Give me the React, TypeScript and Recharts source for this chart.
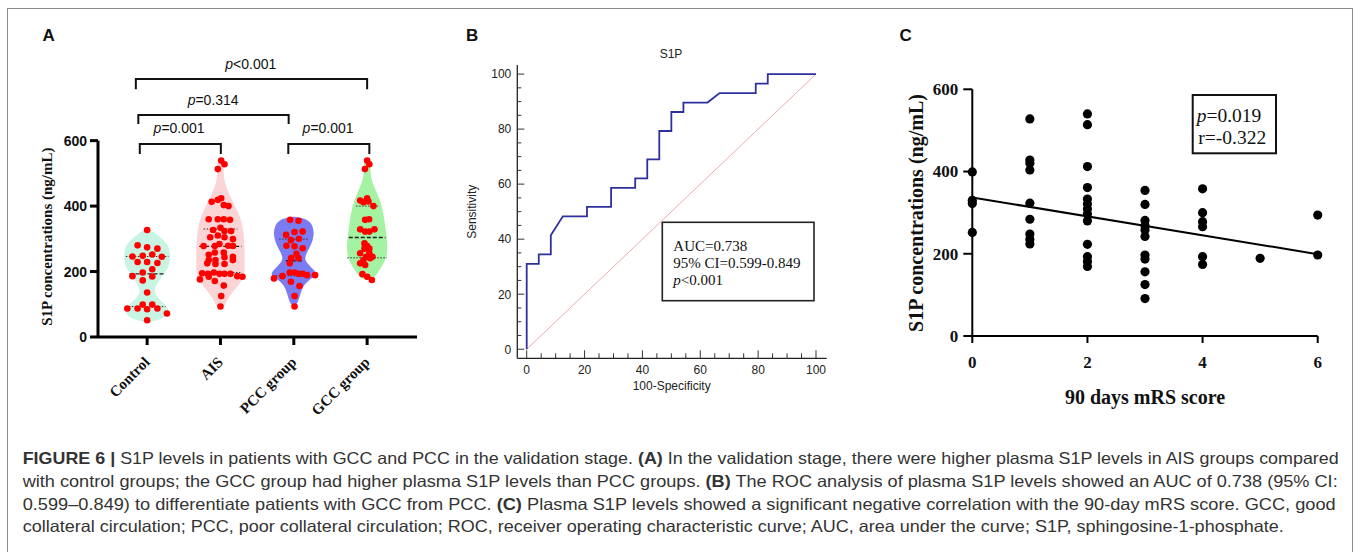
import { ComposedChart, Scatter, Line, XAxis, YAxis, ReferenceLine, Curve } from 'recharts';

const SERIF = "'Liberation Serif', 'Times New Roman', serif";
const SANS = "'Liberation Sans', Arial, sans-serif";
const NARROW = "'Liberation Sans Narrow', 'Arial Narrow', 'Liberation Sans', Arial, sans-serif";

// ---------- panel A: violins ----------
const groups = ['Control', 'AIS', 'PCC group', 'GCC group'];
const groupFill = ['#c8f4e3', '#fbd5d5', '#7b7bf2', '#a3f3a3'];

// outline of each violin: level (ng/mL) and half width (category units)
const controlLevels = [44, 52, 62, 82, 108, 133, 154, 184, 215, 245, 276, 296, 317, 335];
const controlWidths = [0, 0.16, 0.25, 0.32, 0.2, 0.09, 0.11, 0.2, 0.3, 0.32, 0.3, 0.23, 0.11, 0];
const aisLevels = [85, 93, 123, 154, 184, 215, 276, 337, 378, 419, 459, 500, 531, 545];
const aisWidths = [0, 0.055, 0.11, 0.23, 0.33, 0.33, 0.33, 0.31, 0.25, 0.16, 0.07, 0.036, 0.055, 0];
const pccLevels = [92, 103, 133, 164, 184, 195, 215, 235, 256, 286, 317, 347, 362, 368];
const pccWidths = [0, 0.055, 0.09, 0.14, 0.28, 0.32, 0.23, 0.14, 0.17, 0.25, 0.28, 0.25, 0.16, 0];
const gccLevels = [174, 180, 195, 225, 256, 296, 337, 378, 419, 459, 500, 531, 545];
const gccWidths = [0, 0.1, 0.14, 0.23, 0.28, 0.27, 0.25, 0.22, 0.18, 0.09, 0.036, 0.055, 0];

// individual samples: horizontal jitter and value
const controlOffset = [0, -0.13, 0, 0.14, -0.2, -0.06, 0.07, 0.2, -0.13, 0, 0.14, 0.07, -0.2, -0.06, 0.07, -0.06, 0, -0.27, -0.13, -0.06, 0, 0.07, 0.14, 0.27, 0];
const controlValue = [327, 280, 274, 270, 246, 248, 252, 245, 229, 229, 226, 207, 186, 197, 185, 173, 136, 87, 87, 99, 85, 99, 87, 72, 51];
const aisOffset = [0.01, 0.055, -0.036, -0.12, -0.036, 0.01, 0.045, 0.11, -0.16, -0.036, 0.045, 0.13, -0.1, 0, 0.055, 0.145, -0.14, -0.036, 0.055, 0.17, -0.23, -0.077, -0.014, 0.105, 0.17, -0.16, -0.077, 0.045, -0.16, -0.068, 0.055, 0.17, 0.17, -0.18, -0.068, 0.055, -0.25, -0.17, -0.09, -0.014, 0.055, 0.136, 0.23, 0.3, -0.28, -0.16, -0.077, 0.045, 0.01, 0];
const aisValue = [539, 528, 513, 413, 419, 424, 403, 400, 360, 360, 360, 358, 327, 334, 324, 324, 305, 310, 305, 299, 278, 278, 284, 279, 278, 251, 258, 258, 235, 235, 244, 245, 235, 225, 223, 223, 195, 193, 197, 193, 193, 193, 186, 184, 176, 184, 171, 157, 125, 93];
const pccOffset = [-0.05, 0.064, -0.105, 0.01, 0.12, -0.04, 0.07, -0.1, 0.01, 0.12, 0.036, -0.036, 0.064, -0.055, -0.055, 0.01, 0.064, 0.12, -0.27, -0.155, 0.18, 0.29, -0.04, 0.077, 0.01, 0.01];
const pccValue = [358, 355, 312, 321, 322, 296, 300, 279, 277, 271, 254, 241, 241, 225, 197, 197, 193, 193, 179, 186, 189, 189, 169, 156, 125, 93];
const gccOffset = [0, 0.03, -0.03, -0.095, 0, -0.05, 0.018, 0.086, -0.027, 0.027, -0.095, -0.027, 0.03, 0.1, -0.036, 0, -0.036, 0.03, -0.095, 0.03, -0.014, -0.05, 0.04, 0.073, -0.095, -0.027, -0.064, 0, 0.064];
const gccValue = [539, 528, 513, 417, 424, 412, 414, 400, 358, 360, 329, 322, 322, 329, 286, 278, 270, 270, 256, 256, 245, 235, 241, 245, 225, 220, 192, 184, 174];

// quartile (dotted) and median (dashed) lines, with their half lengths
const q1Value = [93, 197, 187, 242];
const q1Half = [0.25, 0.28, 0.29, 0.27];
const medianValue = [193, 277, 233, 304];
const medianHalf = [0.24, 0.29, 0.11, 0.25];
const q3Value = [246, 330, 299, 400];
const q3Half = [0.29, 0.23, 0.2, 0.15];

// significance brackets
const bracketLeft = [-0.154, -0.12, -0.1, 1.925];
const bracketRight = [3.0, 1.93, 1.005, 3.03];
const bracketTop = [788, 678, 590, 590];
const bracketFoot = [757, 651, 559, 559];
const pText = ['<0.001', '=0.314', '=0.001', '=0.001'];
const pTextX = [1.414, 0.9, 0.436, 2.468];
const pTextY = [819, 709, 623, 623];

// ---------- panel B: ROC ----------
const rocX = [0, 0, 4.17, 4.17, 8.33, 8.33, 12.5, 20.83, 20.83, 29.17, 29.17, 37.5, 37.5, 41.67, 41.67, 45.83, 45.83, 50, 50, 54.17, 54.17, 62.5, 66.67, 79.17, 79.17, 83.33, 83.33, 100];
const rocY = [0, 31.03, 31.03, 34.48, 34.48, 41.38, 48.28, 48.28, 51.72, 51.72, 58.62, 58.62, 62.07, 62.07, 68.97, 68.97, 79.31, 79.31, 86.21, 86.21, 89.66, 89.66, 93.1, 93.1, 96.55, 96.55, 100, 100];
const rocTicks = [0, 5, 10, 15, 20, 25, 30, 35, 40, 45, 50, 55, 60, 65, 70, 75, 80, 85, 90, 95, 100];

// ---------- panel C: correlation ----------
const mrsScore = [0, 0, 0, 0, 1, 1, 1, 1, 1, 1, 1, 1, 1, 2, 2, 2, 2, 2, 2, 2, 2, 2, 2, 2, 2, 2, 3, 3, 3, 3, 3, 3, 3, 3, 3, 3, 3, 4, 4, 4, 4, 4, 4, 5, 6, 6];
const s1pLevel = [399, 330, 322, 252, 528, 428, 420, 404, 323, 284, 248, 235, 224, 540, 514, 412, 361, 333, 321, 309, 297, 280, 223, 193, 181, 169, 354, 320, 281, 268, 258, 242, 197, 187, 156, 125, 91, 358, 300, 278, 266, 193, 174, 189, 294, 197];
const fitX = [0, 6];
const fitY = [337, 199];

// ---------- caption ----------
const captionLines: [string, boolean][][] = [
  [['FIGURE 6 | ', true], ['S1P levels in patients with GCC and PCC in the validation stage. ', false], ['(A)', true], [' In the validation stage, there were higher plasma S1P levels in AIS groups compared', false]],
  [['with control groups; the GCC group had higher plasma S1P levels than PCC groups. ', false], ['(B)', true], [' The ROC analysis of plasma S1P levels showed an AUC of 0.738 (95% CI:', false]],
  [['0.599\u20130.849) to differentiate patients with GCC from PCC. ', false], ['(C)', true], [' Plasma S1P levels showed a significant negative correlation with the 90-day mRS score. GCC, good', false]],
  [['collateral circulation; PCC, poor collateral circulation; ROC, receiver operating characteristic curve; AUC, area under the curve; S1P, sphingosine-1-phosphate.', false]],
];
const captionLength = [1316, 1315, 1313, 1261];

// ---------- derived tables ----------
const violinOutline = (center: number, levels: number[], widths: number[]) => {
  const right = levels.map((y, i) => ({ x: center + widths[i], y }));
  const left = levels.map((y, i) => ({ x: center - widths[i], y })).reverse();
  return [...right, ...left];
};
const violins = [
  violinOutline(0, controlLevels, controlWidths),
  violinOutline(1, aisLevels, aisWidths),
  violinOutline(2, pccLevels, pccWidths),
  violinOutline(3, gccLevels, gccWidths),
];
const jitter = (center: number, offs: number[], vals: number[]) => offs.map((o, i) => ({ x: center + o, y: vals[i] }));
const samples = [
  ...jitter(0, controlOffset, controlValue),
  ...jitter(1, aisOffset, aisValue),
  ...jitter(2, pccOffset, pccValue),
  ...jitter(3, gccOffset, gccValue),
];
const segment = (g: number, v: number, h: number) => [{ x: g - h, y: v }, { x: g + h, y: v }];
const brackets = bracketLeft.map((l, i) => [
  { x: l, y: bracketFoot[i] },
  { x: l, y: bracketTop[i] },
  { x: bracketRight[i], y: bracketTop[i] },
  { x: bracketRight[i], y: bracketFoot[i] },
]);
const pLabels = pText.map((t, i) => ({ x: pTextX[i], y: pTextY[i], t }));
const rocData = rocX.map((x, i) => ({ x, y: rocY[i] }));
const mrsData = mrsScore.map((x, i) => ({ x, y: s1pLevel[i] }));
const fitData = fitX.map((x, i) => ({ x, y: fitY[i] }));

// ---------- shapes & ticks ----------
const noShape = () => <g />;
const redDot = (p: any) => <circle cx={p.cx} cy={p.cy} r={3.3} fill="#ff0000" />;
const blackDot = (p: any) => <circle cx={p.cx} cy={p.cy} r={4.6} fill="#000" />;
const violinShape = (fill: string) => (props: any) => (
  <Curve points={props.points} type="basisClosed" fill={fill} stroke="none" />
);
const pLabel = (p: any) => (
  <text x={p.cx} y={p.cy} textAnchor="middle" fontFamily={SANS} fontSize={14} fill="#111">
    <tspan fontStyle="italic">p</tspan>
    {p.payload.t}
  </text>
);

const aXTick = (p: any) => {
  const { x, y, payload } = p;
  const ax = x + 3.5;
  const ay = y + 26;
  return (
    <g>
      <line x1={x} y1={y} x2={x} y2={y + 8} stroke="#000" strokeWidth={3} />
      <text x={ax} y={ay} transform={`rotate(-45 ${ax} ${ay})`} textAnchor="end" fontFamily={SERIF} fontWeight="bold" fontSize={15} fill="#111">
        {groups[payload.value]}
      </text>
    </g>
  );
};
const aYTick = (p: any) => {
  const { x, y, payload } = p;
  return (
    <g>
      <line x1={x - 8} y1={y} x2={x} y2={y} stroke="#000" strokeWidth={3} />
      <text x={x - 11} y={y} dy="0.36em" textAnchor="end" fontFamily={SANS} fontWeight="bold" fontSize={14} fill="#111">
        {payload.value}
      </text>
    </g>
  );
};
const bXTick = (p: any) => {
  const { x, y, payload } = p;
  const major = payload.value % 20 === 0;
  return (
    <g>
      <line x1={x} y1={y} x2={x} y2={y - (major ? 8 : 5)} stroke="#333" strokeWidth={1} />
      {major && (
        <text x={x} y={y + 15.3} textAnchor="middle" fontFamily={SANS} fontSize={12} fill="#222">
          {payload.value}
        </text>
      )}
    </g>
  );
};
const bYTick = (p: any) => {
  const { x, y, payload } = p;
  const major = payload.value % 20 === 0;
  return (
    <g>
      <line x1={x} y1={y} x2={x + (major ? 7 : 4)} y2={y} stroke="#333" strokeWidth={1} />
      {major && (
        <text x={x - 6} y={y} dy="0.36em" textAnchor="end" fontFamily={SANS} fontSize={12} fill="#222">
          {payload.value}
        </text>
      )}
    </g>
  );
};
const cXTick = (p: any) => {
  const { x, y, payload } = p;
  return (
    <g>
      <line x1={x} y1={y} x2={x} y2={y + 7} stroke="#000" strokeWidth={2} />
      <text x={x} y={y + 32} textAnchor="middle" fontFamily={SERIF} fontWeight="bold" fontSize={17} fill="#111">
        {payload.value}
      </text>
    </g>
  );
};
const cYTick = (p: any) => {
  const { x, y, payload } = p;
  return (
    <g>
      <line x1={x - 9} y1={y} x2={x} y2={y} stroke="#000" strokeWidth={2} />
      <text x={x - 14} y={y} dy="0.34em" textAnchor="end" fontFamily={SERIF} fontWeight="bold" fontSize={17} fill="#111">
        {payload.value}
      </text>
    </g>
  );
};

function PanelA() {
  return (
    <ComposedChart width={460} height={420} margin={{ top: 49, right: 43, bottom: 0, left: 0 }}>
      <XAxis type="number" dataKey="x" domain={[-0.67, 3.68]} ticks={[0, 1, 2, 3]} interval={0} height={83}
        axisLine={{ stroke: '#000', strokeWidth: 3 }} tickLine={false} tickSize={0} tickMargin={0} tick={aXTick} />
      <YAxis type="number" dataKey="y" domain={[0, 880]} ticks={[0, 200, 400, 600]} interval={0} width={98}
        axisLine={false} tickLine={false} tickSize={0} tickMargin={0} tick={aYTick} />
      {violins.map((pts, g) => (
        <Scatter key={`v${g}`} data={pts} shape={noShape} line={violinShape(groupFill[g])} isAnimationActive={false} />
      ))}
      {groups.map((_, g) => (
        <Scatter key={`q1${g}`} data={segment(g, q1Value[g], q1Half[g])} shape={noShape}
          line={{ stroke: '#333', strokeWidth: 1, strokeDasharray: '1.5 1.5' }} isAnimationActive={false} />
      ))}
      {groups.map((_, g) => (
        <Scatter key={`q3${g}`} data={segment(g, q3Value[g], q3Half[g])} shape={noShape}
          line={{ stroke: '#333', strokeWidth: 1, strokeDasharray: '1.5 1.5' }} isAnimationActive={false} />
      ))}
      {groups.map((_, g) => (
        <Scatter key={`md${g}`} data={segment(g, medianValue[g], medianHalf[g])} shape={noShape}
          line={{ stroke: '#222', strokeWidth: 1.3, strokeDasharray: '4 2' }} isAnimationActive={false} />
      ))}
      <Scatter data={samples} shape={redDot} isAnimationActive={false} />
      <Scatter data={[{ x: -0.67, y: 0 }, { x: -0.67, y: 600 }]} shape={noShape}
        line={{ stroke: '#000', strokeWidth: 3 }} isAnimationActive={false} />
      {brackets.map((pts, i) => (
        <Scatter key={`b${i}`} data={pts} shape={noShape} line={{ stroke: '#111', strokeWidth: 2 }} isAnimationActive={false} />
      ))}
      <Scatter data={pLabels} shape={pLabel} isAnimationActive={false} />
    </ComposedChart>
  );
}

function PanelB() {
  return (
    <ComposedChart width={400} height={370} data={rocData} margin={{ top: 35, right: 13.3, bottom: 11.7, left: 17.3 }}>
      <XAxis type="number" dataKey="x" domain={[-3.25, 103.7]} ticks={rocTicks} interval={0} height={30}
        axisLine={{ stroke: '#222', strokeWidth: 1.3 }} tickLine={false} tickSize={0} tickMargin={0} tick={bXTick} />
      <YAxis type="number" dataKey="y" domain={[-3.3, 103.3]} ticks={rocTicks} interval={0} width={60}
        axisLine={{ stroke: '#222', strokeWidth: 1.3 }} tickLine={false} tickSize={0} tickMargin={0} tick={bYTick} />
      <ReferenceLine segment={[{ x: 0, y: 0 }, { x: 100, y: 100 }]} stroke="#e6a4a4" strokeWidth={0.9} />
      <Line type="linear" dataKey="y" stroke="#2e309c" strokeWidth={1.8} dot={false} activeDot={false} isAnimationActive={false} />
    </ComposedChart>
  );
}

function PanelC() {
  return (
    <ComposedChart width={470} height={360} margin={{ top: 29.3, right: 32.3, bottom: 24, left: 20.3 }}>
      <XAxis type="number" dataKey="x" domain={[0, 6]} ticks={[0, 2, 4, 6]} interval={0} height={60}
        axisLine={{ stroke: '#000', strokeWidth: 2 }} tickLine={false} tickSize={0} tickMargin={0} tick={cXTick} />
      <YAxis type="number" dataKey="y" domain={[0, 600]} ticks={[0, 200, 400, 600]} interval={0} width={72}
        axisLine={{ stroke: '#000', strokeWidth: 2 }} tickLine={false} tickSize={0} tickMargin={0} tick={cYTick} />
      <Scatter data={mrsData} shape={blackDot} isAnimationActive={false} />
      <Scatter data={fitData} shape={noShape} line={{ stroke: '#000', strokeWidth: 2 }} isAnimationActive={false} />
    </ComposedChart>
  );
}

export default function App() {
  return (
    <div style={{ position: 'relative', width: 1357, height: 552, overflow: 'hidden', background: '#fff' }}>
      <style>{'body{margin:0}'}</style>
      <div style={{ position: 'absolute', left: 7, top: 8, width: 1344, height: 600, border: '1.5px solid #8a8a8a', borderBottom: 'none' }} />
      <div style={{ position: 'absolute', left: 0, top: 0 }}><PanelA /></div>
      <div style={{ position: 'absolute', left: 440, top: 30 }}><PanelB /></div>
      <div style={{ position: 'absolute', left: 880, top: 60 }}><PanelC /></div>
      <svg width={1357} height={552} style={{ position: 'absolute', left: 0, top: 0, pointerEvents: 'none' }}>
        <text x={42.5} y={40.7} fontFamily={SANS} fontWeight="bold" fontSize={17} fill="#111">A</text>
        <text x={466} y={40.7} fontFamily={SANS} fontWeight="bold" fontSize={17} fill="#111">B</text>
        <text x={899.5} y={41} fontFamily={SANS} fontWeight="bold" fontSize={17} fill="#111">C</text>

        <text x={47.3} y={236.7} transform="rotate(-90 47.3 236.7)" textAnchor="middle" dominantBaseline="central"
          fontFamily={SERIF} fontWeight="bold" fontSize={15} fill="#111">S1P concentrations (ng/mL)</text>

        <text x={671} y={58.3} textAnchor="middle" fontFamily={SANS} fontSize={12} fill="#222">S1P</text>
        <text x={471.7} y={211.7} transform="rotate(-90 471.7 211.7)" textAnchor="middle" dominantBaseline="central"
          fontFamily={SANS} fontSize={12} fill="#222">Sensitivity</text>
        <text x={671.7} y={390.3} textAnchor="middle" fontFamily={SANS} fontSize={12} fill="#222">100-Specificity</text>
        <rect x={662.3} y={222.3} width={151.7} height={78.4} fill="none" stroke="#222" strokeWidth={1.6} />
        <text x={673.3} y={250.5} fontFamily={SERIF} fontSize={15} fill="#111">AUC=0.738</text>
        <text x={673.3} y={267.5} fontFamily={SERIF} fontSize={15} fill="#111">95% CI=0.599-0.849</text>
        <text x={673.3} y={285} fontFamily={SERIF} fontSize={15} fill="#111"><tspan fontStyle="italic">p</tspan>&lt;0.001</text>

        <text x={916} y={213} transform="rotate(-90 916 213)" textAnchor="middle" dominantBaseline="central"
          fontFamily={SERIF} fontWeight="bold" fontSize={20} fill="#111">S1P concentrations (ng/mL)</text>
        <text x={1145} y={404} textAnchor="middle" fontFamily={SERIF} fontWeight="bold" fontSize={20} fill="#111">90 days mRS score</text>
        <rect x={1192.7} y={95} width={83.3} height={58.3} fill="none" stroke="#111" strokeWidth={2} />
        <text x={1196.7} y={122} fontFamily={SERIF} fontSize={19.5} fill="#111"><tspan fontStyle="italic">p</tspan>=0.019</text>
        <text x={1198.3} y={144} fontFamily={SERIF} fontSize={19.5} fill="#111">r=-0.322</text>

        {captionLines.map((segs, i) => (
          <text key={i} x={22.7} y={464 + i * 22.8} textLength={captionLength[i]} lengthAdjust="spacingAndGlyphs"
            fontFamily={NARROW} fontSize={16.5} fill="#333" style={{ whiteSpace: 'pre' }}>
            {segs.map(([s, b], j) => (
              <tspan key={j} fontWeight={b ? 'bold' : 'normal'}>{s}</tspan>
            ))}
          </text>
        ))}
      </svg>
    </div>
  );
}
